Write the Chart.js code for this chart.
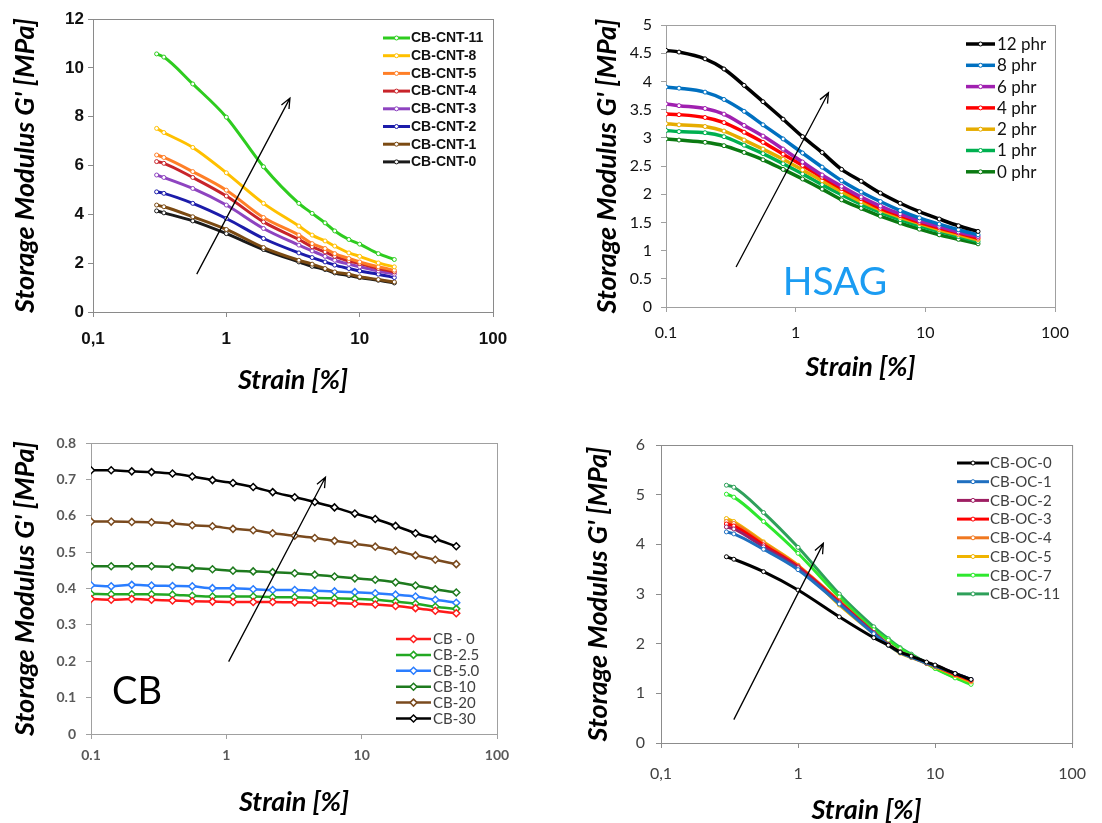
<!DOCTYPE html>
<html>
<head>
<meta charset="utf-8">
<script src="https://cdn.jsdelivr.net/npm/chart.js@4/dist/chart.umd.min.js"></script>
<style>
  body { margin: 0; background: #fff; width: 1102px; height: 823px; overflow: hidden; }
  canvas { position: absolute; }
</style>
</head>
<body>
<canvas id="chartCNT" width="551" height="400" style="left:0;top:0"></canvas>
<canvas id="chartHSAG" width="551" height="400" style="left:551px;top:0"></canvas>
<canvas id="chartCB" width="551" height="423" style="left:0;top:400px"></canvas>
<canvas id="chartOC" width="551" height="423" style="left:551px;top:400px"></canvas>
<script>
// ---- shared axis ticks ----
const xTickValues = [0.1, 1, 10, 100];
const xTickComma = ['0,1', '1', '10', '100'];
const xTickDot = ['0.1', '1', '10', '100'];

// ---- CB-CNT (top left) ----
const strainCNT = [0.3, 0.34, 0.56, 1.0, 1.9, 3.5, 4.4, 5.5, 6.5, 8.3, 10, 13.8, 18.2];
const cnt11 = [10.57, 10.44, 9.34, 7.98, 5.95, 4.45, 4.04, 3.65, 3.32, 2.97, 2.78, 2.39, 2.15];
const cnt8 = [7.52, 7.35, 6.74, 5.70, 4.45, 3.52, 3.15, 2.91, 2.70, 2.42, 2.28, 2.01, 1.85];
const cnt5 = [6.43, 6.33, 5.75, 4.99, 3.87, 3.15, 2.80, 2.60, 2.39, 2.19, 2.05, 1.85, 1.71];
const cnt4 = [6.16, 6.09, 5.51, 4.75, 3.69, 2.97, 2.67, 2.46, 2.28, 2.09, 1.98, 1.78, 1.64];
const cnt3 = [5.61, 5.51, 5.06, 4.38, 3.42, 2.74, 2.50, 2.28, 2.12, 1.96, 1.85, 1.68, 1.55];
const cnt2 = [4.92, 4.86, 4.45, 3.83, 3.01, 2.42, 2.23, 2.05, 1.92, 1.78, 1.68, 1.55, 1.41];
const cnt1 = [4.38, 4.31, 3.90, 3.38, 2.64, 2.12, 1.96, 1.78, 1.64, 1.55, 1.44, 1.33, 1.23];
const cnt0 = [4.14, 4.06, 3.73, 3.21, 2.56, 2.05, 1.87, 1.74, 1.60, 1.49, 1.41, 1.30, 1.19];
const cntLabels = ['CB-CNT-11', 'CB-CNT-8', 'CB-CNT-5', 'CB-CNT-4', 'CB-CNT-3', 'CB-CNT-2', 'CB-CNT-1', 'CB-CNT-0'];
const cntYTicks = [0, 2, 4, 6, 8, 10, 12];
const cntArrow = [[0.6, 1.55], [3.0, 8.76]];

// ---- HSAG (top right) ----
const strainHSAG = [0.1, 0.126, 0.2, 0.28, 0.4, 0.56, 0.8, 1.13, 1.6, 2.26, 3.2, 4.5, 6.4, 9, 12.8, 18, 25.5];
const phr12 = [4.55, 4.52, 4.40, 4.22, 3.93, 3.64, 3.33, 3.02, 2.74, 2.44, 2.23, 2.02, 1.84, 1.69, 1.56, 1.44, 1.34];
const phr8 = [3.90, 3.88, 3.81, 3.68, 3.47, 3.23, 2.98, 2.73, 2.48, 2.24, 2.04, 1.87, 1.71, 1.58, 1.47, 1.37, 1.28];
const phr6 = [3.60, 3.57, 3.52, 3.42, 3.22, 3.03, 2.80, 2.57, 2.34, 2.14, 1.95, 1.79, 1.65, 1.53, 1.43, 1.33, 1.25];
const phr4 = [3.42, 3.41, 3.36, 3.27, 3.10, 2.92, 2.71, 2.51, 2.30, 2.10, 1.92, 1.75, 1.62, 1.50, 1.40, 1.31, 1.22];
const phr2 = [3.25, 3.23, 3.20, 3.12, 2.96, 2.80, 2.62, 2.43, 2.24, 2.05, 1.87, 1.72, 1.59, 1.48, 1.37, 1.28, 1.19];
const phr1 = [3.13, 3.11, 3.09, 3.02, 2.87, 2.72, 2.54, 2.36, 2.17, 1.99, 1.82, 1.68, 1.55, 1.44, 1.34, 1.25, 1.16];
const phr0 = [2.98, 2.96, 2.92, 2.86, 2.74, 2.61, 2.44, 2.27, 2.09, 1.90, 1.75, 1.61, 1.49, 1.38, 1.28, 1.20, 1.12];
const hsagLabels = ['12 phr', '8 phr', '6 phr', '4 phr', '2 phr', '1 phr', '0 phr'];
const hsagYTicks = [0, 0.5, 1, 1.5, 2, 2.5, 3, 3.5, 4, 4.5, 5];
const hsagArrow = [[0.347, 0.71], [1.79, 3.80]];
const hsagTag = ['HSAG', 2.01, 0.44];

// ---- CB (bottom left) ----
const strainCB = [0.1, 0.141, 0.2, 0.28, 0.4, 0.56, 0.79, 1.12, 1.58, 2.2, 3.2, 4.5, 6.3, 8.9, 12.6, 17.8, 25, 35, 50];
const cb0 = [0.371, 0.369, 0.371, 0.369, 0.367, 0.365, 0.364, 0.363, 0.363, 0.363, 0.362, 0.361, 0.360, 0.358, 0.356, 0.352, 0.346, 0.339, 0.332];
const cb25 = [0.385, 0.384, 0.384, 0.384, 0.383, 0.380, 0.378, 0.378, 0.378, 0.376, 0.376, 0.374, 0.373, 0.372, 0.369, 0.364, 0.358, 0.350, 0.344];
const cb50 = [0.409, 0.406, 0.410, 0.408, 0.407, 0.406, 0.401, 0.401, 0.398, 0.396, 0.396, 0.394, 0.392, 0.390, 0.387, 0.383, 0.378, 0.369, 0.361];
const cb10 = [0.461, 0.461, 0.461, 0.461, 0.459, 0.456, 0.453, 0.449, 0.447, 0.445, 0.442, 0.438, 0.433, 0.428, 0.424, 0.417, 0.408, 0.398, 0.389];
const cb20 = [0.584, 0.584, 0.583, 0.582, 0.579, 0.574, 0.571, 0.564, 0.560, 0.552, 0.545, 0.539, 0.531, 0.523, 0.515, 0.504, 0.491, 0.479, 0.467];
const cb30 = [0.725, 0.725, 0.722, 0.720, 0.716, 0.708, 0.698, 0.690, 0.679, 0.665, 0.651, 0.638, 0.623, 0.606, 0.591, 0.572, 0.552, 0.536, 0.516];
const cbLabels = ['CB - 0', 'CB-2.5', 'CB-5.0', 'CB-10', 'CB-20', 'CB-30'];
const cbYTicks = [0, 0.1, 0.2, 0.3, 0.4, 0.5, 0.6, 0.7, 0.8];
const cbArrow = [[1.04, 0.199], [5.4, 0.706]];
const cbTag = ['CB', 0.219, 0.115];

// ---- CB-OC (bottom right) ----
const strainOC = [0.3, 0.34, 0.56, 1.0, 2.0, 3.57, 4.56, 5.56, 6.7, 8.66, 10, 14, 18.3];
const oc0 = [3.75, 3.70, 3.45, 3.08, 2.54, 2.12, 1.97, 1.83, 1.75, 1.63, 1.57, 1.40, 1.28];
const oc1 = [4.25, 4.21, 3.90, 3.49, 2.80, 2.20, 1.97, 1.82, 1.73, 1.61, 1.55, 1.40, 1.28];
const oc2 = [4.35, 4.31, 3.95, 3.53, 2.82, 2.22, 1.98, 1.83, 1.74, 1.62, 1.56, 1.40, 1.28];
const oc3 = [4.41, 4.37, 3.99, 3.55, 2.84, 2.22, 1.98, 1.83, 1.74, 1.61, 1.55, 1.38, 1.26];
const oc4 = [4.46, 4.42, 4.03, 3.57, 2.86, 2.22, 1.99, 1.83, 1.73, 1.61, 1.55, 1.38, 1.25];
const oc5 = [4.52, 4.46, 4.05, 3.58, 2.78, 2.20, 1.97, 1.81, 1.72, 1.60, 1.53, 1.36, 1.23];
const oc7 = [5.01, 4.95, 4.46, 3.82, 2.94, 2.28, 2.07, 1.90, 1.77, 1.60, 1.50, 1.31, 1.18];
const oc11 = [5.19, 5.15, 4.64, 3.94, 3.00, 2.34, 2.10, 1.92, 1.79, 1.61, 1.51, 1.32, 1.20];
const ocLabels = ['CB-OC-0', 'CB-OC-1', 'CB-OC-2', 'CB-OC-3', 'CB-OC-4', 'CB-OC-5', 'CB-OC-7', 'CB-OC-11'];
const ocYTicks = [0, 1, 2, 3, 4, 5, 6];
const ocArrow = [[0.34, 0.47], [1.53, 4.02]];

const yTitle = "Storage Modulus G' [MPa]";
const xTitle = 'Strain [%]';

Chart.defaults.animation = false;

// box around the plot area
const framePlugin = {
  id: 'frame',
  beforeDatasetsDraw(chart, args, opts) {
    const a = chart.chartArea, ctx = chart.ctx;
    ctx.save();
    ctx.strokeStyle = opts.color;
    ctx.lineWidth = 1;
    ctx.strokeRect(a.left + 0.5, a.top + 0.5, a.right - a.left, a.bottom - a.top);
    ctx.restore();
  }
};

// trend arrow, in data units
const arrowPlugin = {
  id: 'arrow',
  afterDatasetsDraw(chart, args, opts) {
    if (!opts.points) return;
    const sx = chart.scales.x, sy = chart.scales.y, ctx = chart.ctx;
    const x0 = sx.getPixelForValue(opts.points[0][0]), y0 = sy.getPixelForValue(opts.points[0][1]);
    const x1 = sx.getPixelForValue(opts.points[1][0]), y1 = sy.getPixelForValue(opts.points[1][1]);
    const ang = Math.atan2(y1 - y0, x1 - x0);
    ctx.save();
    ctx.strokeStyle = '#000';
    ctx.lineWidth = 1.3;
    ctx.beginPath();
    ctx.moveTo(x0, y0);
    ctx.lineTo(x1, y1);
    ctx.moveTo(x1 - 11 * Math.cos(ang - 0.4), y1 - 11 * Math.sin(ang - 0.4));
    ctx.lineTo(x1, y1);
    ctx.lineTo(x1 - 11 * Math.cos(ang + 0.4), y1 - 11 * Math.sin(ang + 0.4));
    ctx.stroke();
    ctx.restore();
  }
};

// big label inside the plot (HSAG / CB)
const tagPlugin = {
  id: 'tag',
  afterDatasetsDraw(chart, args, opts) {
    if (!opts.tag) return;
    const ctx = chart.ctx;
    ctx.save();
    ctx.font = opts.font;
    ctx.fillStyle = opts.color;
    ctx.textAlign = 'center';
    ctx.textBaseline = 'middle';
    ctx.fillText(opts.tag[0], chart.scales.x.getPixelForValue(opts.tag[1]), chart.scales.y.getPixelForValue(opts.tag[2]));
    ctx.restore();
  }
};

// legend drawn inside the plot, Excel style
const boxLegend = {
  id: 'boxLegend',
  afterDraw(chart, args, o) {
    const ctx = chart.ctx;
    ctx.save();
    ctx.font = o.font;
    ctx.textBaseline = 'middle';
    chart.data.datasets.forEach((ds, i) => {
      const y = o.top + i * o.rowH;
      ctx.strokeStyle = ds.borderColor;
      ctx.lineWidth = ds.borderWidth;
      ctx.beginPath();
      ctx.moveTo(o.left, y);
      ctx.lineTo(o.left + o.lineLen, y);
      ctx.stroke();
      const cx = o.left + o.lineLen / 2, r = ds.pointRadius;
      ctx.fillStyle = '#fff';
      ctx.lineWidth = ds.pointBorderWidth;
      ctx.beginPath();
      if (ds.pointStyle === 'rectRot') {
        ctx.moveTo(cx, y - r); ctx.lineTo(cx + r, y); ctx.lineTo(cx, y + r); ctx.lineTo(cx - r, y); ctx.closePath();
      } else {
        ctx.arc(cx, y, r, 0, Math.PI * 2);
      }
      ctx.fill();
      ctx.stroke();
      ctx.fillStyle = o.color;
      ctx.fillText(ds.label, o.left + o.lineLen + o.gap, y + 0.5);
    });
    ctx.restore();
  }
};

function makeChart(id, strain, series, labels, colors, s) {
  const datasets = series.map((vals, i) => ({
    label: labels[i],
    data: strain.map((x, j) => ({ x: x, y: vals[j] })),
    borderColor: colors[i],
    backgroundColor: '#fff',
    borderWidth: s.lineWidth,
    pointRadius: s.pointRadius,
    pointBorderWidth: s.pointBorder,
    pointBackgroundColor: '#fff',
    pointBorderColor: colors[i],
    pointStyle: s.pointStyle,
    cubicInterpolationMode: 'monotone',
    fill: false
  }));
  return new Chart(document.getElementById(id), {
    type: 'line',
    data: { datasets: datasets },
    options: {
      responsive: false,
      layout: { padding: s.padding },
      plugins: {
        legend: { display: false },
        tooltip: { enabled: false },
        frame: { color: s.axisColor },
        arrow: { points: s.arrow },
        tag: { tag: s.tag, font: s.tagFont, color: s.tagColor },
        boxLegend: s.legend
      },
      scales: {
        x: {
          type: 'logarithmic',
          min: 0.1,
          max: 100,
          afterBuildTicks: sc => { sc.ticks = xTickValues.map(v => ({ value: v })); },
          afterFit: sc => { sc.height = s.xHeight; },
          ticks: {
            autoSkip: false, maxRotation: 0,
            font: s.tickFont, color: s.tickColor, padding: s.xTickPad,
            callback: v => s.xLabels[xTickValues.indexOf(v)]
          },
          grid: { drawOnChartArea: false, drawTicks: true, tickLength: 5, color: s.axisColor },
          border: { color: s.axisColor },
          title: { display: true, text: xTitle, font: s.titleFont, color: '#000', padding: { top: 0, bottom: s.xTitlePad } }
        },
        y: {
          type: 'linear',
          min: s.yTicks[0],
          max: s.yTicks[s.yTicks.length - 1],
          afterBuildTicks: sc => { sc.ticks = s.yTicks.map(v => ({ value: v })); },
          afterFit: sc => { sc.width = s.yWidth; },
          ticks: { font: s.tickFont, color: s.tickColor, padding: s.yTickPad, callback: v => String(v) },
          grid: { drawOnChartArea: false, drawTicks: true, tickLength: 5, color: s.axisColor },
          border: { color: s.axisColor },
          title: { display: true, text: yTitle, font: s.titleFont, color: '#000', padding: { top: s.yTitlePad, bottom: 0 } }
        }
      }
    },
    plugins: [framePlugin, arrowPlugin, tagPlugin, boxLegend]
  });
}

const titleFont = { family: 'Lato, "Open Sans", sans-serif', size: 27, weight: 'bold', style: 'italic' };

makeChart('chartCNT', strainCNT, [cnt11, cnt8, cnt5, cnt4, cnt3, cnt2, cnt1, cnt0], cntLabels,
  ['#2ecc1f', '#ffc000', '#ff7f27', '#c8242a', '#8e44c0', '#1c1caa', '#7b4a12', '#1a1a1a'], {
  padding: { left: 0, top: 19, right: 58, bottom: 0 },
  xHeight: 88, yWidth: 93, yTicks: cntYTicks, xLabels: xTickComma,
  tickFont: { family: '"Liberation Sans", Arial, sans-serif', size: 17, weight: 'bold' }, tickColor: '#111',
  xTickPad: 12, yTickPad: 4, axisColor: '#8a8a8a',
  titleFont: titleFont, xTitlePad: 4, yTitlePad: 9,
  lineWidth: 3, pointRadius: 2, pointBorder: 1, pointStyle: 'circle',
  arrow: cntArrow,
  legend: { left: 383, top: 38, rowH: 17.7, lineLen: 27, gap: 1, font: 'bold 14px "Liberation Sans Narrow", "Liberation Sans", Arial, sans-serif', color: '#111' }
});

makeChart('chartHSAG', strainHSAG, [phr12, phr8, phr6, phr4, phr2, phr1, phr0], hsagLabels,
  ['#000000', '#0070c0', '#a020b0', '#ff0000', '#e6ac00', '#00b050', '#0b7a12'], {
  padding: { left: 0, top: 25, right: 47, bottom: 0 },
  xHeight: 93, yWidth: 115, yTicks: hsagYTicks, xLabels: xTickDot,
  tickFont: { family: 'Lato, "Open Sans", sans-serif', size: 16 }, tickColor: '#111',
  xTickPad: 11, yTickPad: 9, axisColor: '#a0a0a0',
  titleFont: titleFont, xTitlePad: 17, yTitlePad: 40,
  lineWidth: 3.5, pointRadius: 2, pointBorder: 1, pointStyle: 'circle',
  arrow: hsagArrow,
  tag: hsagTag, tagFont: '39px Lato, "Open Sans", sans-serif', tagColor: '#1b9cf2',
  legend: { left: 415, top: 44, rowH: 21.3, lineLen: 29, gap: 2, font: '17px Lato, "Open Sans", sans-serif', color: '#111' }
});

makeChart('chartCB', strainCB, [cb0, cb25, cb50, cb10, cb20, cb30], cbLabels,
  ['#ff1a1a', '#22a822', '#2a7dff', '#1e7a1e', '#7a4a1e', '#000000'], {
  padding: { left: 0, top: 43, right: 54, bottom: 0 },
  xHeight: 89, yWidth: 91, yTicks: cbYTicks, xLabels: xTickDot,
  tickFont: { family: 'Lato, "Open Sans", sans-serif', size: 14, weight: 'bold' }, tickColor: '#595959',
  xTickPad: 8, yTickPad: 10, axisColor: '#a0a0a0',
  titleFont: titleFont, xTitlePad: 5, yTitlePad: 9,
  lineWidth: 2.5, pointRadius: 3.5, pointBorder: 1.5, pointStyle: 'rectRot',
  arrow: cbArrow,
  tag: cbTag, tagFont: '38px Lato, "Open Sans", sans-serif', tagColor: '#000',
  legend: { left: 396, top: 239, rowH: 15.9, lineLen: 35, gap: 2, font: '15px Lato, "Open Sans", sans-serif', color: '#404040' }
});

makeChart('chartOC', strainOC, [oc0, oc1, oc2, oc3, oc4, oc5, oc7, oc11], ocLabels,
  ['#000000', '#1f6fc0', '#9e1f63', '#ff0000', '#f07820', '#f0b400', '#2ee82e', '#2ea05a'], {
  padding: { left: 0, top: 45, right: 25, bottom: 0 },
  xHeight: 80, yWidth: 110, yTicks: ocYTicks, xLabels: xTickComma,
  tickFont: { family: 'Lato, "Open Sans", sans-serif', size: 16 }, tickColor: '#404040',
  xTickPad: 16, yTickPad: 11, axisColor: '#8c8c8c',
  titleFont: titleFont, xTitlePad: -3, yTitlePad: 31,
  lineWidth: 3, pointRadius: 2, pointBorder: 1, pointStyle: 'circle',
  arrow: ocArrow,
  legend: { left: 406, top: 63, rowH: 18.7, lineLen: 32, gap: 1, font: '15px Lato, "Open Sans", sans-serif', color: '#404040' }
});
</script>
</body>
</html>
